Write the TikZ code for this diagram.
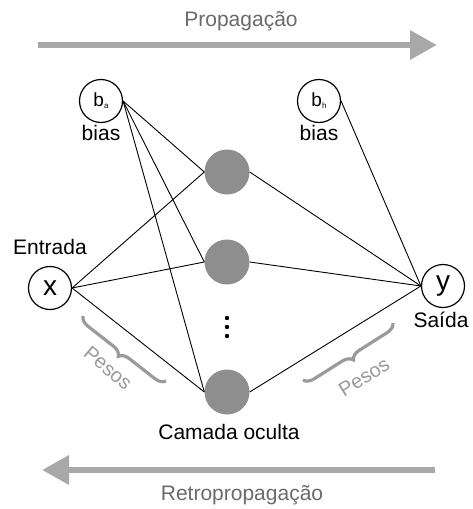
\documentclass[tikz,border=0pt]{standalone}
\usepackage{fontspec}
\setmainfont{Liberation Sans}
\usetikzlibrary{decorations.pathreplacing,arrows.meta}
\definecolor{arrowgray}{HTML}{A8A8A8}
\definecolor{textgray}{HTML}{6A6A6A}
\definecolor{bracegray}{HTML}{9A9A9A}
\definecolor{hiddengray}{HTML}{8E8E8E}
\begin{document}
\begin{tikzpicture}[x=1pt,y=-1pt,
  neuron/.style={circle,draw=black,line width=1.2pt,minimum size=43pt,inner sep=0pt},
  hidden/.style={circle,fill=hiddengray,minimum size=45pt,inner sep=0pt},
  lbl/.style={font=\fontsize{21}{24}\selectfont,inner sep=0pt},
  conn/.style={line width=0.9pt,black},
  bigarrow/.style={line width=6.5pt,arrowgray,-{Triangle[width=28pt,length=27pt]}},
  pbrace/.style={decorate,decoration={brace,amplitude=10pt},line width=3.2pt,bracegray},
  pesos/.style={font=\fontsize{20}{22}\selectfont,text=bracegray,inner sep=0pt}]
\useasboundingbox (0,0) rectangle (473,509);

% top arrow
\coordinate (pa) at (38,45);
\coordinate (pb) at (437,45);
\draw[bigarrow] (pa) -- (pb);
\node[lbl,text=textgray] (prop) at (241,21) {Propagação};

% bottom arrow
\coordinate (ra) at (435,470);
\coordinate (rb) at (42,470);
\draw[bigarrow] (ra) -- (rb);
\node[lbl,text=textgray] (retro) at (242,495) {Retropropagação};

% bias nodes
\node[neuron,font=\fontsize{19}{20}\selectfont] (ba) at (101,101) {b\raisebox{-2pt}{\fontsize{8}{8}\selectfont a}};
\node[lbl] (biasa) at (101,133) {bias};
\node[neuron,font=\fontsize{19}{20}\selectfont] (bh) at (319,101) {b\raisebox{-2pt}{\fontsize{8}{8}\selectfont h}};
\node[lbl] (biash) at (319,133) {bias};

% input / output
\node[neuron,font=\fontsize{28}{30}\selectfont] (x) at (50,288) {x};
\node[lbl] (entrada) at (50,247) {Entrada};
\node[neuron,font=\fontsize{28}{30}\selectfont] (y) at (443,286) {y};
\node[lbl] (saida) at (441,320) {Saída};

% hidden
\node[hidden] (h1) at (227,172) {};
\node[hidden] (h2) at (227,262) {};
\node[hidden] (h3) at (227,392) {};
\node[lbl] (camada) at (229,432) {Camada oculta};
\foreach \yy in {318,327,336}
  \fill (227,\yy) circle (2.2pt);

% connectors
\foreach \h in {h1,h2,h3} {
  \draw[conn] (x.east) -- (\h.west);
  \draw[conn] (ba.east) -- (\h.west);
  \draw[conn] (\h.east) -- (y.west);
}
\draw[conn] (bh.east) -- (y.west);

% braces
\coordinate (lb1) at (166,381);
\coordinate (lb2) at (83,316);
\draw[pbrace] (lb1) -- (lb2);
\node[pesos,rotate=-40] (pesos1) at (108,368) {Pesos};

\coordinate (rb1) at (393,323);
\coordinate (rb2) at (303,380);
\draw[pbrace] (rb1) -- (rb2);
\node[pesos,rotate=32] (pesos2) at (364,377) {Pesos};
\end{tikzpicture}
\end{document}
